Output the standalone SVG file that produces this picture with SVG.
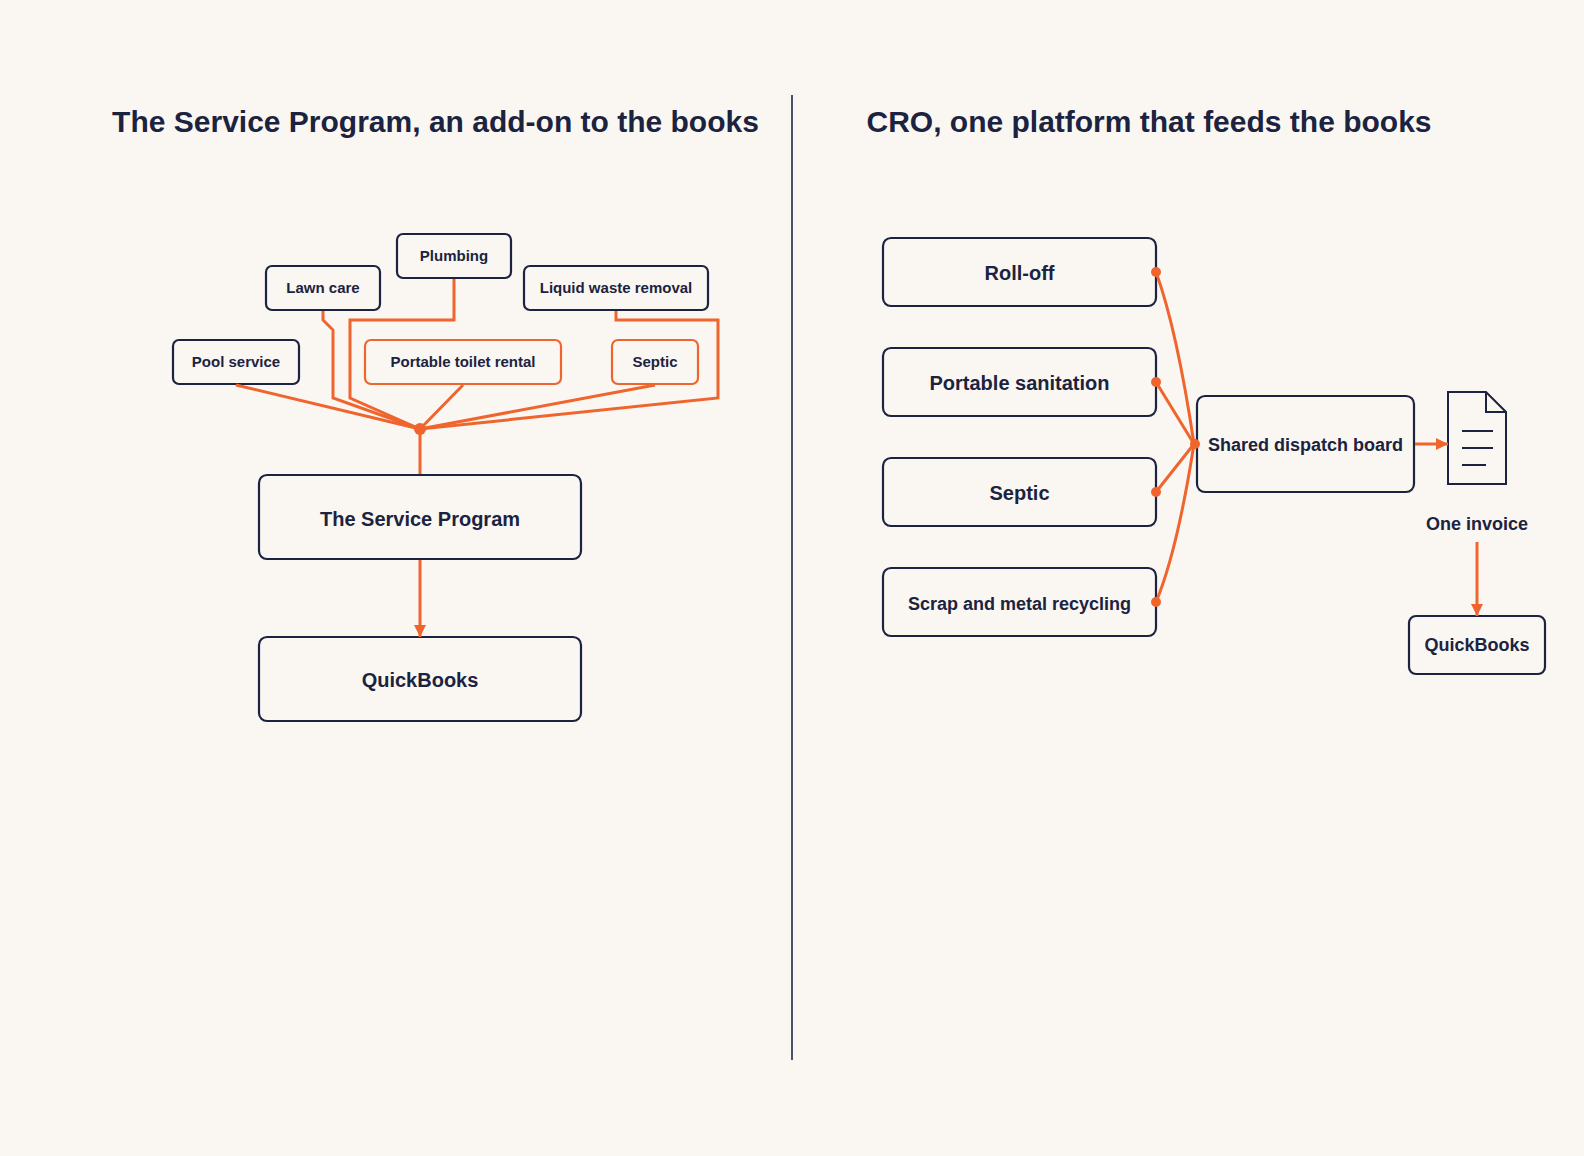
<svg xmlns="http://www.w3.org/2000/svg" width="1584" height="1156" viewBox="0 0 1584 1156">
<style>
.box{fill:#faf7f2;stroke:#1c2340;stroke-width:2.2}
.obox{fill:#faf7f2;stroke:#f0642d;stroke-width:2.2}
.lbl{font-family:"Liberation Sans",Arial,sans-serif;font-weight:bold;fill:#1c2340;text-anchor:middle}
.s15{font-size:15px}
.s18{font-size:18px}
.s20{font-size:20px}
.title{font-family:"Liberation Sans",Arial,sans-serif;font-weight:bold;font-size:30px;fill:#1c2340;text-anchor:middle}
.wire{fill:none;stroke:#f0642d;stroke-width:3;stroke-linejoin:miter}
.dot{fill:#f0642d}
</style>
<defs>
<marker id="arr" markerUnits="userSpaceOnUse" markerWidth="12" markerHeight="12" refX="12" refY="6" orient="auto">
<path d="M0,0 L12,6 L0,12 Z" fill="#f0642d"/>
</marker>
</defs>
<rect width="1584" height="1156" fill="#faf7f2"/>
<text class="title" x="435.5" y="132">The Service Program, an add-on to the books</text>
<text class="title" x="1149" y="132">CRO, one platform that feeds the books</text>
<line x1="792" y1="95" x2="792" y2="1060" stroke="#4a5068" stroke-width="2"/>

<g id="n-pool"><rect class="box" x="173" y="340" width="126" height="44" rx="6"/><text class="lbl s15" x="236" y="367">Pool service</text></g>
<g id="n-lawn"><rect class="box" x="266" y="266" width="114" height="44" rx="6"/><text class="lbl s15" x="323" y="293">Lawn care</text></g>
<g id="n-plumbing"><rect class="box" x="397" y="234" width="114" height="44" rx="6"/><text class="lbl s15" x="454" y="261">Plumbing</text></g>
<g id="n-liquid"><rect class="box" x="524" y="266" width="184" height="44" rx="6"/><text class="lbl s15" x="616" y="293">Liquid waste removal</text></g>
<g id="n-toilet"><rect class="obox" x="365" y="340" width="196" height="44" rx="6"/><text class="lbl s15" x="463" y="367">Portable toilet rental</text></g>
<g id="n-septic-l"><rect class="obox" x="612" y="340" width="86" height="44" rx="6"/><text class="lbl s15" x="655" y="367">Septic</text></g>
<g id="n-tsp"><rect class="box" x="259" y="475" width="322" height="84" rx="8"/><text class="lbl s20" x="420" y="526">The Service Program</text></g>
<g id="n-qb-l"><rect class="box" x="259" y="637" width="322" height="84" rx="8"/><text class="lbl s20" x="420" y="686.5">QuickBooks</text></g>

<g id="n-rolloff"><rect class="box" x="883" y="238" width="273" height="68" rx="8"/><text class="lbl s20" x="1019.5" y="279.5">Roll-off</text></g>
<g id="n-portable"><rect class="box" x="883" y="348" width="273" height="68" rx="8"/><text class="lbl s20" x="1019.5" y="389.5">Portable sanitation</text></g>
<g id="n-septic-r"><rect class="box" x="883" y="458" width="273" height="68" rx="8"/><text class="lbl s20" x="1019.5" y="499.5">Septic</text></g>
<g id="n-scrap"><rect class="box" x="883" y="568" width="273" height="68" rx="8"/><text class="lbl s18" x="1019.5" y="610">Scrap and metal recycling</text></g>
<g id="n-dispatch"><rect class="box" x="1197" y="396" width="217" height="96" rx="8"/><text class="lbl s18" x="1305.5" y="450.5">Shared dispatch board</text></g>
<g id="n-invoice">
<path d="M1448,392 L1486,392 L1506,412 L1506,484 L1448,484 Z" fill="#faf7f2" stroke="#1c2340" stroke-width="2"/>
<path d="M1486,392 L1486,412 L1506,412" fill="none" stroke="#1c2340" stroke-width="2"/>
<path d="M1462,431 H1493 M1462,448 H1493 M1462,465 H1486" stroke="#1c2340" stroke-width="2"/>
<text class="lbl s18" x="1477" y="530">One invoice</text>
</g>
<g id="n-qb-r"><rect class="box" x="1409" y="616" width="136" height="58" rx="7"/><text class="lbl s18" x="1477" y="651">QuickBooks</text></g>

<g id="connectors">
<path class="wire" d="M236,385 L420,429"/>
<path class="wire" d="M323,311 L323,320 L333,330 L333,398 L420,429"/>
<path class="wire" d="M454,279 L454,320 L350,320 L350,398 L420,429"/>
<path class="wire" d="M463,385 L420,429"/>
<path class="wire" d="M655,385 L420,429"/>
<path class="wire" d="M616,311 L616,320 L718,320 L718,398 L420,429"/>
<path class="wire" d="M420,429 L420,474"/>
<path class="wire" d="M420,560 L420,637" marker-end="url(#arr)"/>
<circle class="dot" cx="420" cy="429" r="6"/>

<path class="wire" d="M1156,272 Q1177,330 1194,444"/>
<path class="wire" d="M1156,382 L1194,444"/>
<path class="wire" d="M1156,492 L1194,444"/>
<path class="wire" d="M1156,602 Q1177,552 1194,444"/>
<circle class="dot" cx="1156" cy="272" r="5"/>
<circle class="dot" cx="1156" cy="382" r="5"/>
<circle class="dot" cx="1156" cy="492" r="5"/>
<circle class="dot" cx="1156" cy="602" r="5"/>
<circle class="dot" cx="1195" cy="444" r="5"/>
<path class="wire" d="M1415,444 L1448,444" marker-end="url(#arr)"/>
<path class="wire" d="M1477,542 L1477,616" marker-end="url(#arr)"/>
</g>
</svg>
